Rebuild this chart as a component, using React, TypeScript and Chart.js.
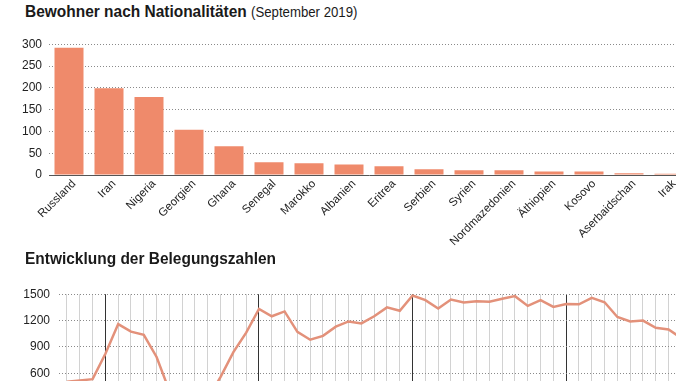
import React, { useEffect, useRef } from 'react';
import { Chart, registerables } from 'chart.js';

Chart.register(...registerables);

const FONT = "'Liberation Sans', Arial, sans-serif";

// Top chart: residents by nationality (September 2019)
const nationalities = [
  'Russland', 'Iran', 'Nigeria', 'Georgien', 'Ghana', 'Senegal', 'Marokko', 'Albanien',
  'Eritrea', 'Serbien', 'Syrien', 'Nordmazedonien', 'Äthiopien', 'Kosovo', 'Aserbaidschan', 'Irak',
];
const residents = [292, 199, 179, 104, 66, 29, 27, 24, 20, 13, 11, 11, 8, 8, 4, 3];
const residentTickStep = 50;
const residentMax = 300;

// Bottom chart: monthly occupancy (index 0 = October, dark line = January)
const occupancy = [
  505, 519, 533, 822, 1160, 1074, 1038, 786, 400, 330, 290, 310,
  560, 841, 1063, 1332, 1249, 1304, 1071, 982, 1026, 1130, 1190, 1167,
  1249, 1350, 1311, 1485, 1432, 1337, 1440, 1406, 1420, 1415, 1448, 1478,
  1367, 1433, 1356, 1389, 1385, 1459, 1408, 1241, 1190, 1200, 1117, 1098,
  1000,
];
const occupancyTickStep = 300;
const occupancyMax = 1500;
const januaryOffset = 3;

const BAR_COLOR = '#ef8a6b';
const LINE_COLOR = '#e3917a';
const TEXT = '#222';

const plainNumber = (v: any) => String(v);

function BarChart() {
  const ref = useRef<HTMLCanvasElement>(null);
  useEffect(() => {
    const chart = new Chart(ref.current!, {
      type: 'bar',
      data: {
        labels: nationalities,
        datasets: [{ data: residents, backgroundColor: BAR_COLOR, barPercentage: 0.725, categoryPercentage: 1 }],
      },
      options: {
        animation: false,
        responsive: false,
        layout: { padding: { top: 13, right: 11, left: 0, bottom: 0 } },
        plugins: { legend: { display: false }, tooltip: { enabled: false } },
        scales: {
          x: {
            grid: { display: false, drawTicks: false },
            border: { display: true, color: '#555', width: 1 },
            ticks: {
              color: TEXT, font: { family: FONT, size: 11.5 }, minRotation: 45, maxRotation: 45,
              autoSkip: false, padding: 2, labelOffset: 5,
            },
            afterFit: (s: any) => { s.height = 75; },
          },
          y: {
            min: 0, max: residentMax,
            grid: { color: '#8a8a8a', lineWidth: 1, drawTicks: false },
            border: { display: false, dash: [1, 2] },
            ticks: { stepSize: residentTickStep, color: TEXT, font: { family: FONT, size: 12 }, padding: 7, callback: plainNumber },
            afterFit: (s: any) => { s.width = 49; },
          },
        },
      },
    });
    return () => chart.destroy();
  }, []);
  return <canvas ref={ref} width={700} height={220} style={{ position: 'absolute', left: 0, top: 30, width: 700, height: 220 }} />;
}

function LineChart() {
  const ref = useRef<HTMLCanvasElement>(null);
  useEffect(() => {
    const chart = new Chart(ref.current!, {
      type: 'line',
      data: {
        datasets: [{
          data: occupancy.map((v, i) => ({ x: i, y: v })),
          borderColor: LINE_COLOR, borderWidth: 2.5, pointRadius: 0, tension: 0,
        }],
      },
      options: {
        animation: false,
        responsive: false,
        layout: { padding: { top: 13, right: 0, left: 0, bottom: 0 } },
        plugins: { legend: { display: false }, tooltip: { enabled: false } },
        scales: {
          x: {
            type: 'linear', min: -0.625, max: 52.58,
            grid: {
              drawTicks: false, lineWidth: 1,
              color: (ctx: any) => (ctx.tick && ((ctx.tick.value % 12) + 12) % 12 === januaryOffset ? '#333' : '#d2d2d2'),
            },
            border: { display: false },
            ticks: { display: false, stepSize: 1, includeBounds: false, autoSkip: false },
            afterFit: (s: any) => { s.height = 20; },
          },
          y: {
            min: 0, max: occupancyMax,
            grid: { color: '#8a8a8a', lineWidth: 1, drawTicks: false },
            border: { display: false, dash: [1, 2] },
            ticks: { stepSize: occupancyTickStep, color: TEXT, font: { family: FONT, size: 12 }, padding: 9, callback: plainNumber },
            afterFit: (s: any) => { s.width = 59; },
          },
        },
      },
    });
    return () => chart.destroy();
  }, []);
  return <canvas ref={ref} width={740} height={168} style={{ position: 'absolute', left: 0, top: 278, width: 740, height: 168 }} />;
}

export default function App() {
  const titleStyle: React.CSSProperties = {
    position: 'absolute', left: 25, fontFamily: FONT, fontSize: 17, lineHeight: '17px',
    fontWeight: 'bold', color: '#1a1a1a', whiteSpace: 'nowrap',
    transform: 'scaleX(0.91)', transformOrigin: 'left top',
  };
  return (
    <div style={{ position: 'fixed', left: 0, top: 0, width: 676, height: 381, overflow: 'hidden', background: '#fff' }}>
      <div style={{ ...titleStyle, top: 3 }}>
        Bewohner nach Nationalitäten <span style={{ fontWeight: 'normal', fontSize: 14.5 }}>(September 2019)</span>
      </div>
      <BarChart />
      <div style={{ ...titleStyle, top: 250 }}>Entwicklung der Belegungszahlen</div>
      <LineChart />
    </div>
  );
}
